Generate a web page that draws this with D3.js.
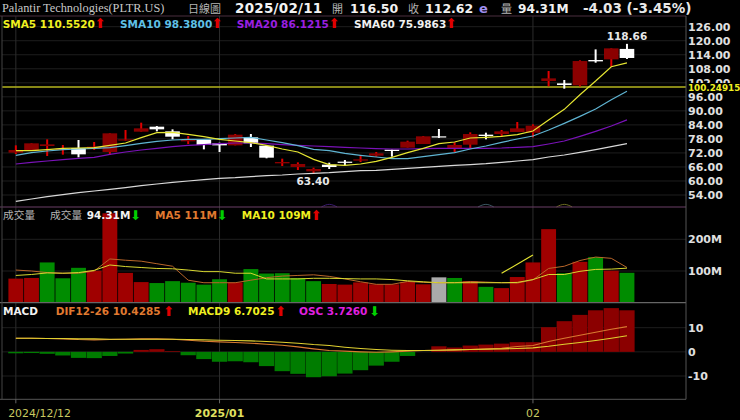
<!DOCTYPE html>
<html><head><meta charset="utf-8">
<script src="https://cdnjs.cloudflare.com/ajax/libs/d3/7.8.5/d3.min.js"></script>
<style>
html,body{margin:0;padding:0;background:#000;overflow:hidden}
svg{display:block}
text{font-family:"DejaVu Sans",sans-serif}
.b{font-weight:bold}
.axis path,.axis line{display:none}
</style></head><body>
<svg id="c" width="740" height="420"></svg>
<script>
const dates=["12/12","12/13","12/16","12/17","12/18","12/19","12/20","12/23","12/24","12/26","12/27","12/30","12/31","01/02","01/03","01/06","01/07","01/08","01/10","01/13","01/14","01/15","01/16","01/17","01/21","01/22","01/23","01/24","01/27","01/28","01/29","01/30","01/31","02/03","02/04","02/05","02/06","02/07","02/10","02/11"];
const open=[72.11,72.96,74.96,73.25,74.10,73.82,72.39,77.53,81.09,83.23,81.23,76.96,77.67,76.10,75.24,78.67,75.10,67.55,65.98,64.12,66.97,68.26,68.69,70.82,73.39,74.25,75.81,79.10,73.68,75.53,79.81,80.09,80.95,80.66,102.76,101.76,100.91,111.74,112.03,116.50];
const close=[73.25,76.10,75.67,73.82,71.40,74.67,80.38,77.81,82.52,82.09,78.95,77.53,75.39,75.24,79.81,76.10,69.97,68.12,67.26,65.12,65.98,67.83,69.26,71.82,72.82,76.81,79.10,78.67,75.39,80.09,79.24,81.23,82.52,83.66,103.90,101.05,111.31,111.17,116.73,112.62];
const high=[75.24,76.10,77.81,75.39,77.53,76.67,80.38,81.80,84.94,83.51,82.09,79.24,77.95,76.38,80.09,80.09,75.39,69.54,67.97,65.69,67.83,68.97,71.11,72.39,73.39,77.24,79.24,82.23,76.53,80.81,80.66,81.80,85.22,84.23,107.04,103.19,111.60,116.30,116.73,118.66];
const low=[71.54,72.96,70.68,71.25,70.11,73.25,71.11,77.24,81.09,81.23,77.81,75.81,73.53,72.39,75.24,74.53,69.68,66.40,64.69,63.40,65.12,66.69,68.12,70.40,70.40,74.25,75.81,78.38,72.39,73.82,77.81,79.24,80.95,78.67,100.48,99.48,100.48,110.60,108.89,112.17];
const sma5=[72.96,72.96,73.39,73.96,74.10,74.25,75.24,76.24,78.52,80.66,80.80,79.95,78.95,77.81,77.10,76.38,75.24,73.68,72.39,69.26,66.97,66.69,67.26,68.40,70.11,72.11,73.96,75.96,76.67,78.38,78.67,79.10,79.81,81.38,86.08,90.64,96.91,102.76,108.89,110.55];
const sma10=[70.97,72.11,72.82,73.39,73.68,73.96,74.25,75.10,76.10,76.96,77.53,77.81,77.81,78.10,78.38,78.67,77.53,76.38,75.10,73.53,72.96,71.82,70.97,70.26,69.54,69.54,70.40,71.25,72.11,73.68,74.96,76.53,77.95,79.24,81.80,84.65,87.65,90.78,94.78,98.38];
const sma20=[67.26,67.97,68.54,69.11,69.68,70.11,71.40,72.39,73.25,73.96,74.67,75.24,75.53,75.96,76.24,76.24,75.96,75.53,75.24,74.96,74.67,74.39,74.10,73.82,73.68,73.68,73.82,73.96,73.96,73.96,73.96,74.10,74.39,74.67,75.81,77.10,79.10,81.23,83.51,86.12];
const sma60=[51.29,52.29,53.29,54.14,54.99,55.71,56.43,57.14,57.99,58.71,59.42,59.99,60.56,61.13,61.41,61.84,62.27,62.55,62.98,63.27,63.55,63.98,64.41,64.55,64.98,65.41,65.83,66.26,66.69,66.98,67.40,67.97,68.54,69.11,70.26,71.11,72.25,73.39,74.67,75.98];
const volume=[76,78,127,77,110,101,282,94,65,62,68,63,57,74,64,106,92,93,78,68,59,57,64,58,58,66,58,80,78,68,50,46,81,127,232,93,129,144,101,94.31];
const volDir=[1,1,-1,-1,-1,1,1,1,1,-1,-1,-1,-1,-1,1,-1,-1,-1,-1,-1,1,1,1,1,1,1,1,0,-1,1,-1,1,1,1,1,-1,1,-1,1,-1];
const volMa5=[103,100,95,93,93,100,138,134,131,123,115,71,63,63,63,71,79,84,86,88,83,75,66,58,58,67,64,63,63,67,65,63,62,72,108,115,133,144,140,111];
const volMa10=[86,89,94,93,95,102,119,114,111,108,107,103,98,98,93,93,75,75,75,77,77,76,75,75,73,69,66,63,63,63,63,63,64,73,89,89,99,105,106,109];
const volTrendIdx=[31,33];
const volTrendVal=[92.6,150.5];
const osc=[-0.6,-0.5,-0.8,-1.5,-2.5,-2.6,-1.7,-0.7,0.8,1.1,0.3,-1.4,-3.0,-4.1,-3.9,-4.3,-5.9,-8.0,-9.1,-10.5,-10.1,-9.0,-7.6,-5.7,-4.1,-1.7,0,2.3,1.8,2.6,3.0,3.4,4.0,4.0,10.2,12.7,15.3,17.2,18.1,17.2];
const dif=[5.66,5.66,5.52,5.38,5.10,4.97,5.10,5.24,5.38,5.38,5.24,4.83,4.41,4.14,3.86,3.59,3.17,2.76,2.07,1.24,0.55,0.28,0,-0.14,0,0.28,0.55,0.69,0.83,0.97,1.24,1.52,2.21,2.62,4.28,5.66,6.90,8.14,9.38,10.43];
const macd=[5.66,5.66,5.52,5.52,5.38,5.38,5.24,5.24,5.24,5.24,5.24,5.10,4.97,4.83,4.69,4.55,4.28,4.0,3.59,3.03,2.62,1.93,1.38,0.97,0.69,0.55,0.55,0.69,0.83,0.97,1.10,1.24,1.38,1.66,2.34,3.17,3.86,4.69,5.66,6.70];
const priceTicks=[54,60,66,72,78,84,90,96,102,108,114,120,126];
const volTicks=[100,200];
const macdTicks=[-10,0,10];
const xTickDates=["12/12","01/02","02/03"];
const xTickLabels=["2024/12/12","2025/01","02"];
const refLevel=100.24915;
const arcCentres=[20,30,35];
const arcColours=["#3a1a70","#3a5560","#6a6a20"];
const arcOffsets=[-0.5,0,0.5];
const arcPrices=[48.9,50.0,48.9];

const svg=d3.select("#c");
const L=2,R=686;
const P={t:16,b:207},V={t:207,b:302.7},M={t:302.7,b:399.3};
const x=d3.scaleBand().domain(dates).range([8,8+15.67*40]).paddingInner(0);
const cx=d=>x(d)+x.bandwidth()/2;
const xIdx=d3.scaleLinear().domain([0,39]).range([cx(dates[0]),cx(dates[39])]);
const yP=d3.scaleLinear().domain([54,126]).range([195,26.7]);
const yV=d3.scaleLinear().domain([0,200]).range([302.7,239.3]);
const yM=d3.scaleLinear().domain([-10,10]).range([376,327.7]);

// grid
const grid=svg.append("g").attr("stroke","#1e1e1e");
priceTicks.forEach(t=>grid.append("line").attr("x1",L).attr("x2",R).attr("y1",yP(t)).attr("y2",yP(t)));
volTicks.forEach(t=>grid.append("line").attr("x1",L).attr("x2",R).attr("y1",yV(t)).attr("y2",yV(t)));
macdTicks.forEach(t=>grid.append("line").attr("x1",L).attr("x2",R).attr("y1",yM(t)).attr("y2",yM(t)));
xTickDates.forEach(d=>grid.append("line").attr("x1",cx(d)).attr("x2",cx(d)).attr("y1",P.t).attr("y2",M.b).attr("stroke","#2c2c2c"));

// faint arcs along the bottom of the price panel
arcCentres.forEach((c,k)=>{
  const line=d3.line().x((o)=>xIdx(c+o)).y((o,i)=>yP(arcPrices[i])).curve(d3.curveNatural);
  svg.append("path").attr("fill","none").attr("stroke",arcColours[k]).attr("stroke-width",1).attr("d",line(arcOffsets));
});

// reference line
svg.append("line").attr("x1",L).attr("x2",R).attr("y1",yP(refLevel)).attr("y2",yP(refLevel)).attr("stroke","#b4b41e").attr("stroke-width",1.5);

// candles
const cg=svg.append("g");
dates.forEach((d,i)=>{
  const up=close[i]>=open[i], wick=up?"#e00000":"#ffffff", body=up?"#8b0000":"#ffffff";
  const w=14.6;
  cg.append("line").attr("x1",cx(d)).attr("x2",cx(d)).attr("y1",yP(high[i])).attr("y2",yP(low[i])).attr("stroke",wick).attr("stroke-width",2);
  cg.append("rect").attr("x",cx(d)-w/2).attr("width",w)
    .attr("y",yP(Math.max(open[i],close[i])))
    .attr("height",Math.max(1.2,Math.abs(yP(open[i])-yP(close[i])))).attr("fill",body);
});
const xl=d3.line().x((v,i)=>cx(dates[i])).curve(d3.curveLinear);
[[sma60,"#d8d8d8"],[sma20,"#7a12b8"],[sma10,"#5fb4d2"],[sma5,"#e6e632"]].forEach(([s,c])=>{
  svg.append("path").attr("fill","none").attr("stroke",c).attr("stroke-width",1.2).attr("d",xl.y(v=>yP(v))(s));
});

// volume
const volColor={1:"#a00000",[-1]:"#008c00",0:"#aaaaaa"};
svg.append("g").selectAll("rect").data(dates).join("rect")
 .attr("x",d=>x(d)+0.4).attr("width",x.bandwidth()-0.8)
 .attr("y",(d,i)=>yV(volume[i])).attr("height",(d,i)=>yV(0)-yV(volume[i]))
 .attr("fill",(d,i)=>volColor[volDir[i]]);
svg.append("path").attr("fill","none").attr("stroke","#b8662a").attr("stroke-width",1).attr("d",xl.y(v=>yV(v))(volMa5));
svg.append("path").attr("fill","none").attr("stroke","#d8d830").attr("stroke-width",1).attr("d",xl.y(v=>yV(v))(volMa10));
svg.append("line").attr("x1",cx(dates[volTrendIdx[0]])).attr("x2",cx(dates[volTrendIdx[1]]))
  .attr("y1",yV(volTrendVal[0])).attr("y2",yV(volTrendVal[1])).attr("stroke","#e6e632").attr("stroke-width",1.2);

// macd
svg.append("g").selectAll("rect").data(dates).join("rect")
 .attr("x",d=>x(d)+0.2).attr("width",x.bandwidth()-0.4)
 .attr("y",(d,i)=>yM(Math.max(0,osc[i]))).attr("height",(d,i)=>Math.abs(yM(osc[i])-yM(0)))
 .attr("fill",(d,i)=>osc[i]>=0?"#8b0000":"#007c00");
svg.append("path").attr("fill","none").attr("stroke","#d87a30").attr("stroke-width",1.1).attr("d",xl.y(v=>yM(v))(dif));
svg.append("path").attr("fill","none").attr("stroke","#e0d030").attr("stroke-width",1.1).attr("d",xl.y(v=>yM(v))(macd));

// frames
const fr=svg.append("g").attr("fill","none");
fr.append("line").attr("x1",0).attr("x2",R).attr("y1",P.t).attr("y2",P.t).attr("stroke","#4a2e3e");
fr.append("line").attr("x1",0).attr("x2",R).attr("y1",P.b).attr("y2",P.b).attr("stroke","#6a3f66").attr("stroke-width",1.2);
fr.append("line").attr("x1",0).attr("x2",R).attr("y1",V.b).attr("y2",V.b).attr("stroke","#666").attr("stroke-width",1.2);
fr.append("line").attr("x1",0).attr("x2",R).attr("y1",M.b).attr("y2",M.b).attr("stroke","#555");
fr.append("line").attr("x1",L).attr("x2",L).attr("y1",P.t).attr("y2",M.b).attr("stroke","#444");
fr.append("line").attr("x1",R).attr("x2",R).attr("y1",P.t).attr("y2",M.b).attr("stroke","#555");

// axes
function rAxis(scale,ticks,fmt){
  const g=svg.append("g").attr("class","axis").attr("transform",`translate(${R},0)`)
   .call(d3.axisRight(scale).tickValues(ticks).tickFormat(fmt).tickSize(0).tickPadding(2));
  g.selectAll("text").attr("class","b").attr("fill","#e0e0e0").style("font-size","11px").style("font-family",'"DejaVu Sans"');
  return g;
}
rAxis(yP,priceTicks,d=>d3.format(".2f")(d));
rAxis(yV,volTicks,d=>d+"M");
rAxis(yM,macdTicks,d=>d3.format("d")(d).replace("−","-"));
svg.append("rect").attr("x",687).attr("y",83).attr("width",53).attr("height",9).attr("fill","#000");
svg.append("text").attr("class","b").attr("x",688).attr("y",90.8).attr("fill","#f0f020").style("font-size","8.8px").text(d3.format(".5f")(refLevel));

const xa=svg.append("g").attr("class","axis").attr("transform",`translate(0,${M.b})`)
 .call(d3.axisBottom(x).tickValues(xTickDates).tickFormat((d,i)=>xTickLabels[i]).tickSize(0).tickPadding(10));
xa.selectAll("text").attr("fill","#c8c860").style("font-size","10.9px").style("font-family",'"DejaVu Sans"').attr("text-anchor","middle");
xa.selectAll("text").filter((d,i)=>i==0).attr("text-anchor","start").attr("dx",-7.7);
xa.selectAll("text").filter((d,i)=>i==1).style("font-weight","bold").attr("fill","#e0e060");
xTickDates.forEach(d=>svg.append("line").attr("x1",cx(d)).attr("x2",cx(d)).attr("y1",M.b).attr("y2",M.b+4).attr("stroke","#666"));

// text helper
function T(x,y,s,fill,size,bold,font){
  const t=svg.append("text").attr("x",x).attr("y",y).attr("fill",fill).style("font-size",size+"px").text(s);
  if(bold)t.attr("class","b");
  if(font)t.style("font-family",font);
  return t;
}
const UP="\u2B06", DOWN="\u2B07", AS=13.5;
const CJK='"Noto Sans CJK TC"';
// header
T(2,12,"Palantir Technologies(PLTR.US)","#c8c8c8",12.3,false,'"Liberation Serif"');
T(188,12.8,"日線圖","#b4b4b4",11,false,CJK);
T(235,12.5,"2025/02/11","#f2f2f2",13.5,true).style("letter-spacing","0.25px");
T(332,12.8,"開","#b4b4b4",11,false,CJK);
T(350,12.5,"116.50","#f2f2f2",12.5,true);
T(408,12.8,"收","#b4b4b4",11,false,CJK);
T(425,12.5,"112.62","#f2f2f2",12.5,true);
T(479,12.5,"e","#a090f0",13,true);
T(501,12.8,"量","#b4b4b4",11,false,CJK);
T(518,12.5,"94.31M","#f2f2f2",12.2,true);
T(583,12.5,"-4.03 (-3.45%)","#e8e8e8",13.5,true);
// price legend
T(2.7,27.5,"SMA5 110.5520","#f0f020",10.5,true); T(94.5,28,UP,"#e00000",AS,false);
T(120,27.5,"SMA10 98.3800","#5fc0e6",10.5,true); T(211.5,28,UP,"#e00000",AS,false);
T(236.7,27.5,"SMA20 86.1215","#9a1fe0",10.5,true); T(328.5,28,UP,"#e00000",AS,false);
T(354,27.5,"SMA60 75.9863","#f0f0f0",10.5,true); T(445.5,28,UP,"#e00000",AS,false);
// extremes
T(cx(dates[39]),40,"118.66","#e8e8e8",10.5,true).attr("text-anchor","middle");
T(313,184.5,"63.40","#e8e8e8",10.5,true).attr("text-anchor","middle");
// vol legend
T(3,219,"成交量","#b4b4b4",10.7,false,CJK);
T(50,219,"成交量","#b4b4b4",10.7,false,CJK);
T(86.7,219,"94.31M","#f2f2f2",10.5,true); T(130,219.5,DOWN,"#00d000",AS,false);
T(155,219,"MA5 111M","#e07a30",10.5,true); T(216.5,219.5,DOWN,"#00d000",AS,false);
T(241.7,219,"MA10 109M","#f0f020",10.5,true); T(310.5,219.5,UP,"#e00000",AS,false);
// macd legend
T(3,315,"MACD","#f2f2f2",10.5,true);
T(55.7,315,"DIF12-26 10.4285","#e07a30",10.5,true); T(163,315.5,UP,"#e00000",AS,false);
T(188,315,"MACD9 6.7025","#f0f020",10.5,true); T(275,315.5,UP,"#e00000",AS,false);
T(299,315,"OSC 3.7260","#e020e0",10.5,true); T(369,315.5,DOWN,"#00d000",AS,false);
</script>
</body></html>
